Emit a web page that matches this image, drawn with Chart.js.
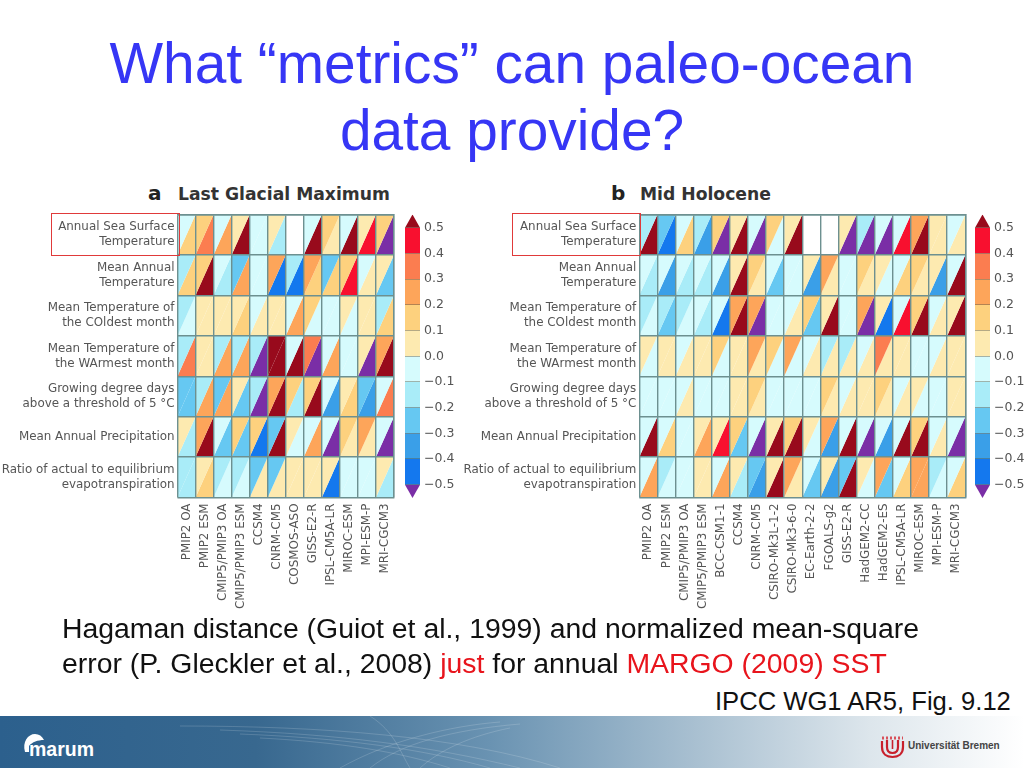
<!DOCTYPE html>
<html>
<head>
<meta charset="utf-8">
<title>What metrics can paleo-ocean data provide?</title>
<script src="https://cdn.jsdelivr.net/npm/chart.js@4/dist/chart.umd.min.js"></script>
<style>
html, body { margin: 0; padding: 0; background: #fff; overflow: hidden; }
body { width: 1024px; height: 768px; position: relative; font-family: "Liberation Sans", sans-serif; }
canvas { position: absolute; filter: blur(0.45px); }
.abs { position: absolute; white-space: nowrap; }
#title { left: 0; width: 1024px; top: 30px; text-align: center; color: #3636f5; font-size: 56.8px; line-height: 67px; }
.panel { font-family: "DejaVu Sans", sans-serif; font-weight: bold; color: #333; font-size: 17.2px; top: 184px; }
.letter { font-size: 20px; top: 181px; color: #222; }
.box { position: absolute; border: 1px solid #e03a3a; width: 127px; height: 41px; top: 213px; box-sizing: content-box; }
.note { left: 62px; font-size: 28.4px; color: #111; }
.red { color: #e8141c; }
#footer { left: 0; top: 716px; width: 1024px; height: 52px; background: linear-gradient(90deg, #2c608d 0%, #38688f 25%, #6a93b2 48%, #a9c0d1 68%, #dde6ec 85%, #ffffff 100%); overflow: hidden; }
</style>
</head>
<body>
<div id="title" class="abs">What “metrics” can paleo-ocean<br>data provide?</div>

<div class="abs panel letter" style="left:148px">a</div>
<div class="abs panel" style="left:178px">Last Glacial Maximum</div>
<div class="abs panel letter" style="left:611px">b</div>
<div class="abs panel" style="left:640px">Mid Holocene</div>

<canvas id="lgm" width="400" height="410" style="left:0;top:205px"></canvas>
<canvas id="lgmBar" width="60" height="300" style="left:395px;top:205px"></canvas>
<canvas id="mh" width="510" height="410" style="left:462px;top:205px"></canvas>
<canvas id="mhBar" width="64" height="300" style="left:960px;top:205px"></canvas>

<div class="box" style="left:51px"></div>
<div class="box" style="left:512px"></div>

<div class="abs note" style="top:612px">Hagaman distance (Guiot et al., 1999) and normalized mean-square</div>
<div class="abs note" style="top:647px">error (P. Gleckler et al., 2008) <span class="red">just</span> for annual <span class="red">MARGO (2009) SST</span></div>
<div class="abs" style="left:715px;top:687px;font-size:25.6px;color:#111">IPCC WG1 AR5, Fig. 9.12</div>

<div id="footer" class="abs">
  <svg width="1024" height="52" style="position:absolute;left:0;top:0">
    <g fill="none" stroke="#fff" stroke-opacity="0.16">
      <path d="M220 14 C340 18 430 30 520 52"/>
      <path d="M240 18 C340 22 420 32 490 52"/>
      <path d="M260 22 C340 26 400 36 450 52"/>
      <path d="M180 10 C320 10 460 20 560 52"/>
      <path d="M370 52 C400 28 450 14 520 8"/>
      <path d="M340 52 C390 24 450 10 500 6"/>
      <path d="M420 52 C440 34 470 20 510 12"/>
      <path d="M370 0 C395 16 400 36 410 52"/>
    </g>
    <path d="M25 36 C22 26 28 18 35 18 C39 18 42 20 44 24 C38 24 32 26 29 30 L29 36 Z" fill="#fff"/>
    <path d="M882 22 H903" stroke="#d8505a" stroke-width="3" stroke-dasharray="2 2" fill="none"/>
    <path d="M882 25 V31 C882 38 887 41 892.500 41 C898 41 903 38 903 31 V25" stroke="#c8202c" stroke-width="2.2" fill="none"/>
    <path d="M887 24 V31 C887 35 889 37 892.500 37 C896 37 898 35 898 31 V24" stroke="#c8202c" stroke-width="2.2" fill="none"/>
    <path d="M892.500 24 V33" stroke="#c8202c" stroke-width="1.6" fill="none"/>
  </svg>
  <div class="abs" style="left:29px;top:22px;font:bold 19.5px 'Liberation Sans',sans-serif;color:#fff">marum</div>
  <div class="abs" style="left:908px;top:24px;font:bold 10px 'Liberation Sans',sans-serif;color:#444">Universität Bremen</div>
</div>

<script>
// row labels shared by both panels
const rowLabels = [
    ['Annual Sea Surface', 'Temperature'],
    ['Mean Annual', 'Temperature'],
    ['Mean Temperature of', 'the COldest month'],
    ['Mean Temperature of', 'the WArmest month'],
    ['Growing degree days', 'above a threshold of 5 °C'],
    ['Mean Annual Precipitation'],
    ['Ratio of actual to equilibrium', 'evapotranspiration']
];

const lgmModels = ['PMIP2 OA', 'PMIP2 ESM', 'CMIP5/PMIP3 OA', 'CMIP5/PMIP3 ESM', 'CCSM4', 'CNRM-CM5',
    'COSMOS-ASO', 'GISS-E2-R', 'IPSL-CM5A-LR', 'MIROC-ESM', 'MPI-ESM-P', 'MRI-CGCM3'];

const mhModels = ['PMIP2 OA', 'PMIP2 ESM', 'CMIP5/PMIP3 OA', 'CMIP5/PMIP3 ESM', 'BCC-CSM1-1', 'CCSM4',
    'CNRM-CM5', 'CSIRO-Mk3L-1-2', 'CSIRO-Mk3-6-0', 'EC-Earth-2-2', 'FGOALS-g2', 'GISS-E2-R',
    'HadGEM2-CC', 'HadGEM2-ES', 'IPSL-CM5A-LR', 'MIROC-ESM', 'MPI-ESM-P', 'MRI-CGCM3'];

// upper left triangle of each cell, one row per metric (null = no data)
const lgmUpper = [
    [-0.05, 0.15, -0.05, 0.05, -0.05, 0.05, null, -0.05, 0.15, -0.05, 0.05, 0.15],
    [-0.15, 0.15, -0.05, -0.25, -0.05, 0.25, -0.15, 0.25, -0.25, 0.15, -0.05, 0.05],
    [-0.15, 0.05, 0.05, 0.05, -0.05, 0.05, -0.05, 0.15, -0.05, 0.05, 0.05, -0.15],
    [-0.15, 0.05, -0.15, -0.15, -0.15, 0.6, -0.05, 0.35, -0.05, -0.05, 0.05, 0.25],
    [-0.25, -0.15, -0.25, 0.05, -0.15, 0.25, 0.15, 0.15, -0.05, 0.05, -0.25, -0.05],
    [0.05, 0.25, -0.05, 0.15, 0.15, -0.25, 0.05, -0.05, -0.05, 0.15, 0.25, -0.05],
    [-0.15, 0.05, -0.15, -0.15, -0.25, -0.25, 0.05, 0.05, 0.05, -0.05, -0.05, 0.05]
];

// lower right triangle of each cell
const lgmLower = [
    [0.15, 0.35, 0.25, 0.6, -0.05, -0.15, null, 0.6, 0.05, 0.6, 0.45, -0.6],
    [0.15, 0.6, -0.15, 0.25, -0.05, -0.45, -0.45, 0.15, 0.15, 0.45, 0.05, -0.25],
    [-0.05, 0.05, 0.05, 0.15, 0.05, 0.05, 0.25, -0.05, -0.05, -0.05, 0.05, 0.15],
    [0.35, 0.05, 0.25, 0.25, -0.6, 0.6, 0.6, -0.6, 0.25, -0.05, -0.6, 0.6],
    [-0.25, 0.25, 0.25, -0.25, -0.6, 0.6, -0.15, 0.6, -0.35, 0.15, -0.35, 0.35],
    [-0.15, 0.6, -0.25, -0.25, -0.45, 0.6, -0.05, 0.25, -0.6, 0.05, 0.05, -0.6],
    [-0.15, 0.15, -0.05, -0.05, 0.05, 0.05, 0.05, 0.05, -0.45, -0.05, -0.05, -0.15]
];

const mhUpper = [
    [-0.15, -0.25, -0.05, -0.15, 0.15, 0.05, -0.05, 0.15, 0.05, null, null, 0.05, -0.15, -0.05, -0.05, 0.25, 0.05, -0.05],
    [-0.05, -0.05, -0.05, -0.05, -0.05, 0.05, 0.15, -0.05, -0.05, 0.05, 0.25, -0.05, 0.15, 0.05, -0.05, 0.15, 0.05, -0.05],
    [-0.15, -0.15, -0.15, -0.05, -0.05, 0.25, 0.25, -0.05, -0.05, 0.15, 0.05, -0.05, 0.25, 0.05, -0.05, 0.15, -0.05, 0.05],
    [0.05, 0.05, -0.05, 0.05, 0.15, 0.05, 0.25, 0.15, 0.25, -0.05, -0.15, -0.15, -0.05, 0.35, 0.05, -0.05, -0.05, 0.05],
    [-0.05, -0.05, -0.05, -0.05, -0.05, 0.05, 0.15, -0.05, -0.05, -0.05, 0.15, -0.05, 0.05, 0.15, -0.05, 0.05, -0.05, 0.05],
    [-0.05, -0.05, -0.05, 0.05, 0.05, 0.15, -0.05, 0.05, 0.15, 0.05, 0.25, -0.05, -0.05, -0.05, -0.05, 0.15, -0.05, -0.05],
    [-0.05, -0.15, -0.05, 0.05, -0.05, 0.05, -0.25, 0.05, 0.25, -0.05, 0.05, -0.25, 0.05, 0.25, -0.05, 0.25, -0.15, -0.05]
];

const mhLower = [
    [0.6, -0.45, 0.15, -0.35, -0.6, 0.6, -0.6, -0.05, 0.6, null, null, -0.6, -0.6, -0.6, 0.45, 0.6, 0.05, 0.05],
    [-0.15, -0.35, -0.15, -0.15, -0.35, 0.6, 0.05, -0.25, -0.05, -0.35, 0.05, -0.05, 0.05, -0.05, 0.15, 0.05, -0.35, 0.6],
    [-0.05, -0.25, -0.05, -0.15, -0.45, 0.6, -0.6, -0.05, 0.05, -0.25, 0.6, -0.05, -0.6, -0.45, 0.45, 0.6, 0.05, 0.6],
    [-0.05, 0.05, 0.05, 0.05, -0.05, 0.05, 0.05, -0.05, -0.05, 0.05, 0.05, 0.05, 0.05, 0.05, 0.05, -0.05, 0.05, 0.05],
    [-0.05, -0.05, 0.05, -0.05, -0.05, 0.05, 0.05, -0.05, -0.05, -0.05, 0.05, 0.05, 0.05, 0.05, 0.05, -0.05, -0.05, 0.05],
    [0.6, 0.15, -0.05, 0.25, 0.45, -0.25, -0.6, 0.6, 0.6, -0.05, -0.35, 0.6, -0.6, -0.35, 0.6, 0.6, 0.05, -0.6],
    [0.25, -0.05, -0.05, 0.05, 0.25, -0.15, -0.35, 0.6, 0.05, -0.25, -0.35, 0.6, -0.05, -0.25, 0.15, 0.25, -0.05, 0.15]
];

// colour levels, one colour per band plus the two extensions
const levels = [-0.5, -0.4, -0.3, -0.2, -0.1, 0, 0.1, 0.2, 0.3, 0.4, 0.5];
const levelColors = ['#7a2ea6', '#1478ee', '#3a9fe8', '#66c8f2', '#a9ecf8', '#d6fbfd',
    '#fdeab0', '#fdd17e', '#fda55a', '#fb7d50', '#f8102f', '#980a1c'];
const colorbarTicks = [-0.5, -0.4, -0.3, -0.2, -0.1, 0, 0.1, 0.2, 0.3, 0.4, 0.5];

const gridColor = '#6d9090';
const labelColor = '#555555';
const labelFont = { family: 'DejaVu Sans', size: 11.9, lineHeight: 1.25 };

function colorFor(value) {
    let i = 0;
    while (i < levels.length && value >= levels[i]) i++;
    return levelColors[i];
}

// each triangle is the diagonal of the cell, filled up to one edge of its row
function triangleDatasets(upper, lower) {
    let sets = [];
    upper.forEach(function (row, r) {
        row.forEach(function (v, c) {
            let diagonal = [{ x: c, y: r + 1 }, { x: c + 1, y: r }];
            if (v !== null) {
                sets.push({ data: diagonal, fill: { value: r }, backgroundColor: colorFor(v) });
            }
            if (lower[r][c] !== null) {
                sets.push({ data: diagonal, fill: { value: r + 1 }, backgroundColor: colorFor(lower[r][c]) });
            }
        });
    });
    return sets;
}

// tick labels overhanging the plot must not shrink it
function noOverhang(scale) {
    scale.paddingLeft = 0;
    scale.paddingRight = 0;
    scale.paddingTop = 0;
    scale.paddingBottom = 0;
}

function drawPanel(id, models, upper, lower, axisWidth, rightPad) {
    new Chart(document.getElementById(id), {
        type: 'line',
        data: { datasets: triangleDatasets(upper, lower) },
        options: {
            responsive: false,
            animation: false,
            parsing: false,
            normalized: true,
            elements: { point: { radius: 0 }, line: { borderWidth: 0, tension: 0 } },
            layout: { padding: { top: 9.5, right: rightPad, left: 0, bottom: 0 } },
            plugins: { legend: { display: false }, tooltip: { enabled: false } },
            scales: {
                x: {
                    type: 'linear', min: 0, max: models.length,
                    afterBuildTicks: function (scale) {
                        scale.ticks = models.map(function (m, i) { return { value: i + 0.5 }; });
                    },
                    afterFit: function (scale) { scale.height = 117.5; noOverhang(scale); },
                    grid: { display: false, drawTicks: false },
                    border: { display: false },
                    ticks: {
                        autoSkip: false, minRotation: 90, maxRotation: 90, padding: 6,
                        color: labelColor, font: labelFont,
                        callback: function (v) { return models[Math.floor(v)]; }
                    }
                },
                y: {
                    type: 'linear', min: 0, max: rowLabels.length, reverse: true,
                    afterBuildTicks: function (scale) {
                        scale.ticks = rowLabels.map(function (l, i) { return { value: i + 0.5 }; });
                    },
                    afterFit: function (scale) { scale.width = axisWidth; noOverhang(scale); },
                    grid: { display: false, drawTicks: false },
                    border: { display: false },
                    ticks: {
                        autoSkip: false, padding: 3, color: labelColor, font: labelFont,
                        callback: function (v) { return rowLabels[Math.floor(v)]; }
                    }
                },
                // two axes that only carry the cell lines
                gx: {
                    type: 'linear', position: 'top', min: 0, max: models.length,
                    afterFit: function (scale) { scale.height = 0; noOverhang(scale); },
                    grid: { color: gridColor, lineWidth: 1.4, z: 1, drawTicks: false },
                    border: { color: gridColor, width: 1.4, z: 1 },
                    ticks: { display: false, stepSize: 1, autoSkip: false }
                },
                gy: {
                    type: 'linear', position: 'right', min: 0, max: rowLabels.length,
                    afterFit: function (scale) { scale.width = 0; noOverhang(scale); },
                    grid: { color: gridColor, lineWidth: 1.4, z: 1, drawTicks: false },
                    border: { color: gridColor, width: 1.4, z: 1 },
                    ticks: { display: false, stepSize: 1, autoSkip: false }
                }
            }
        }
    });
}

function colorbarDatasets() {
    let sets = [];
    for (let i = 0; i < levels.length - 1; i++) {
        sets.push({
            data: [{ x: 0, y: levels[i + 1] }, { x: 1, y: levels[i + 1] }],
            fill: { value: levels[i] },
            backgroundColor: levelColors[i + 1]
        });
    }
    // the two extension arrows
    sets.push({
        data: [{ x: 0, y: 0.5 }, { x: 0.5, y: 0.552 }, { x: 1, y: 0.5 }],
        fill: { value: 0.5 }, backgroundColor: levelColors[levelColors.length - 1]
    });
    sets.push({
        data: [{ x: 0, y: -0.5 }, { x: 0.5, y: -0.552 }, { x: 1, y: -0.5 }],
        fill: { value: -0.5 }, backgroundColor: levelColors[0]
    });
    return sets;
}

function drawColorbar(id, leftPad, rightPad) {
    new Chart(document.getElementById(id), {
        type: 'line',
        data: { datasets: colorbarDatasets() },
        options: {
            responsive: false,
            animation: false,
            parsing: false,
            elements: { point: { radius: 0 }, line: { borderWidth: 0, tension: 0 } },
            layout: { padding: { top: 9.5, bottom: 7, left: leftPad, right: 0 } },
            plugins: { legend: { display: false }, tooltip: { enabled: false } },
            scales: {
                x: { type: 'linear', min: 0, max: 1, display: false },
                y: {
                    type: 'linear', position: 'right', min: -0.552, max: 0.552,
                    afterBuildTicks: function (scale) {
                        scale.ticks = colorbarTicks.map(function (v) { return { value: v }; });
                    },
                    afterFit: function (scale) { scale.width = rightPad; noOverhang(scale); },
                    grid: { color: 'rgba(90,90,70,0.45)', lineWidth: 1, z: 1, drawTicks: false },
                    border: { display: false },
                    ticks: {
                        autoSkip: false, padding: 4, color: labelColor,
                        font: { family: 'DejaVu Sans', size: 12.5 },
                        callback: function (v) { return v.toFixed(1).replace('-', '\u2212'); }
                    }
                }
            }
        }
    });
}

drawPanel('lgm', lgmModels, lgmUpper, lgmLower, 177.5, 6);
drawPanel('mh', mhModels, mhUpper, mhLower, 177.3, 6.7);
drawColorbar('lgmBar', 10, 35);
drawColorbar('mhBar', 15, 34);
</script>
</body>
</html>
